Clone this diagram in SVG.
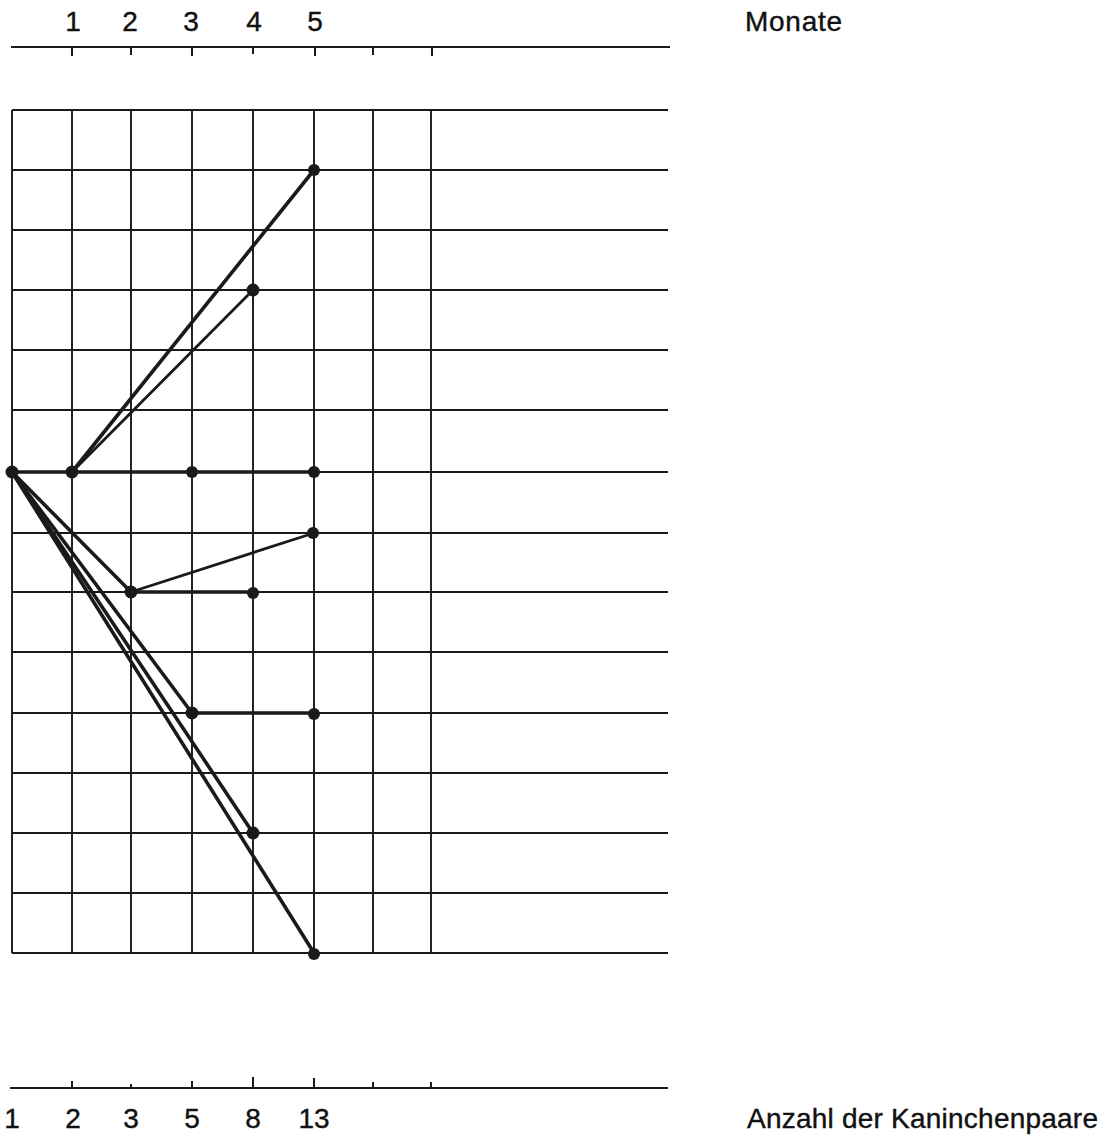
<svg xmlns="http://www.w3.org/2000/svg" width="1109" height="1135" viewBox="0 0 1109 1135">
<style>
.grid{stroke:#1a1a1a;stroke-width:1.9;fill:none}
.axis{stroke:#1a1a1a;stroke-width:2;fill:none}
.edge{stroke:#1a1a1a;stroke-width:3.6;fill:none;stroke-linecap:round}
.thin{stroke-width:2.8}
.dot{fill:#1a1a1a}
text{font-family:"Liberation Sans",Arial,sans-serif;fill:#111;font-size:28px;stroke:#111;stroke-width:0.4}
</style>
<rect width="1109" height="1135" fill="#fff"/>
<g id="top-axis">
<line class="axis" x1="11" y1="47" x2="670" y2="47"/>
<path class="axis" d="M72 47V56M131 47V55M192 47V56M253 47V54M315 47V56M373 47V55M432 47V56"/>
<text x="73" y="31" text-anchor="middle">1</text>
<text x="130" y="31" text-anchor="middle">2</text>
<text x="191" y="31" text-anchor="middle">3</text>
<text x="254" y="31" text-anchor="middle">4</text>
<text x="315" y="31" text-anchor="middle">5</text>
<text x="745" y="31" textLength="97">Monate</text>
</g>
<g id="grid">
<path class="grid" d="M12 110H668M12 170H668M12 230H668M12 290H668M12 350H668M12 410H668M12 472H668M12 533H668M12 592H668M12 652H668M12 713H668M12 773H668M12 833H668M12 893H668M12 953H668"/>
<path class="grid" d="M12 110V953M72 110V953M131 110V953M192 110V953M253 110V953M314 110V953M373 110V953M431 110V953"/>
</g>
<g id="connectors">
<line class="edge" x1="12" y1="472" x2="314" y2="472"/>
<line class="edge" x1="72" y1="472" x2="314" y2="170"/>
<line class="edge thin" x1="72" y1="472" x2="253" y2="290"/>
<line class="edge" x1="12" y1="472" x2="131" y2="592"/>
<line class="edge thin" x1="131" y1="592" x2="314" y2="533"/>
<line class="edge" x1="131" y1="592" x2="253" y2="592"/>
<line class="edge" x1="12" y1="472" x2="192" y2="713"/>
<line class="edge" x1="192" y1="713" x2="314" y2="713"/>
<line class="edge" x1="12" y1="472" x2="253" y2="833"/>
<line class="edge" x1="12" y1="472" x2="314" y2="953"/>
</g>
<g id="n1"><circle class="dot" cx="12" cy="472" r="6.5"/></g>
<g id="n2"><circle class="dot" cx="72" cy="472" r="6.5"/></g>
<g id="n3"><circle class="dot" cx="192" cy="472" r="6"/></g>
<g id="n4"><circle class="dot" cx="314" cy="472" r="6"/></g>
<g id="n5"><circle class="dot" cx="314" cy="170" r="6"/></g>
<g id="n6"><circle class="dot" cx="253" cy="290" r="6.5"/></g>
<g id="n7"><circle class="dot" cx="313" cy="533" r="6"/></g>
<g id="n8"><circle class="dot" cx="131" cy="592" r="6.5"/></g>
<g id="n9"><circle class="dot" cx="253" cy="593" r="6"/></g>
<g id="n10"><circle class="dot" cx="192" cy="713" r="6.5"/></g>
<g id="n11"><circle class="dot" cx="314" cy="714" r="6"/></g>
<g id="n12"><circle class="dot" cx="253" cy="833" r="6.5"/></g>
<g id="n13"><circle class="dot" cx="314" cy="954" r="6"/></g>
<g id="bottom-axis">
<line class="axis" x1="10" y1="1088" x2="668" y2="1088"/>
<path class="axis" d="M72 1088V1081M131 1088V1084M192 1088V1081M253 1088V1077M314 1088V1078M373 1088V1082M431 1088V1082"/>
<text x="12" y="1128" text-anchor="middle">1</text>
<text x="73" y="1128" text-anchor="middle">2</text>
<text x="131" y="1128" text-anchor="middle">3</text>
<text x="192" y="1128" text-anchor="middle">5</text>
<text x="253" y="1128" text-anchor="middle">8</text>
<text x="314" y="1128" text-anchor="middle">13</text>
<text x="747" y="1128" textLength="351">Anzahl der Kaninchenpaare</text>
</g>
</svg>
